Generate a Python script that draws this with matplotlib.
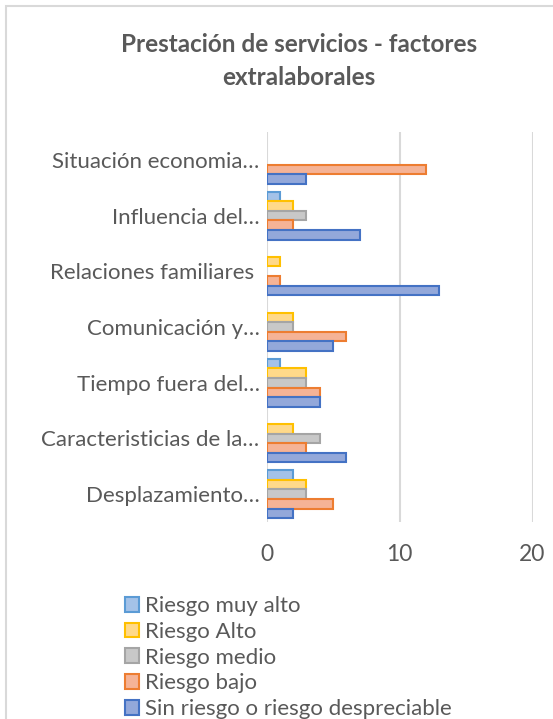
import matplotlib
matplotlib.use("Agg")
import matplotlib.pyplot as plt
from matplotlib.patches import Rectangle, Patch
import numpy as np

plt.rcParams['font.family'] = ['Lato', 'DejaVu Sans']

categories = ["Situación economia…", "Influencia del…", "Relaciones familiares ",
              "Comunicación y…", "Tiempo fuera del…", "Caracteristicias de la…",
              "Desplazamiento…"]
series_names = ["Riesgo muy alto", "Riesgo Alto", "Riesgo medio", "Riesgo bajo",
                "Sin riesgo o riesgo despreciable"]
riesgo_muy_alto = [0, 1, 0, 0, 1, 0, 2]
riesgo_alto = [0, 2, 1, 2, 3, 2, 3]
riesgo_medio = [0, 3, 0, 2, 3, 4, 3]
riesgo_bajo = [12, 2, 1, 6, 4, 3, 5]
sin_riesgo = [3, 7, 13, 5, 4, 6, 2]
series_values = [riesgo_muy_alto, riesgo_alto, riesgo_medio, riesgo_bajo, sin_riesgo]
x_ticks = [0, 10, 20]

fills = ["#A4C2E8", "#FFD98A", "#C8C8C8", "#F5B396", "#93A8DA"]
edges = ["#5B9BD5", "#FFC000", "#A5A5A5", "#ED7D31", "#4472C4"]
text_color = "#595959"

W, H = 553, 719
fig = plt.figure(figsize=(W / 100, H / 100), dpi=100)

# chart border
fig.patches.append(Rectangle((6 / W, -0.1), 1.2, (H - 6) / H + 0.1,
                             transform=fig.transFigure, fill=False,
                             edgecolor="#D9D9D9", linewidth=1.5))

left, right, top, bottom = 266.5, 532.5, 132, 522
ax = fig.add_axes([left / W, 1 - bottom / H, (right - left) / W, (bottom - top) / H])

y = np.arange(len(categories))
bh = 0.172
for k, vals in enumerate(series_values):
    vals = np.array(vals, dtype=float)
    lw = [1.5 if v > 0 else 0 for v in vals]
    ax.barh(y + (k - 2) * bh, vals, height=bh, color=fills[k], edgecolor=edges[k],
            linewidth=lw, zorder=3)

ax.set_xlim(0, 20)
ax.set_ylim(len(categories) - 0.5, -0.5)
ax.set_xticks(x_ticks)
ax.set_xticklabels([str(t) for t in x_ticks])
ax.set_yticks(y)
ax.set_yticklabels(categories)
ax.grid(axis="x", color="#D9D9D9", linewidth=1.5, zorder=0)
for s in ax.spines.values():
    s.set_visible(False)
ax.tick_params(axis="y", length=0, colors=text_color, labelsize=16, pad=5)
ax.tick_params(axis="x", length=0, colors=text_color, labelsize=16.5, pad=16)

fig.text(299 / W, 1 - 61 / H, "Prestación de servicios - factores\nextralaborales",
         ha="center", va="center", fontsize=17.5, fontweight="bold",
         color=text_color, linespacing=1.55)

handles = [Patch(facecolor=fills[k], edgecolor=edges[k], linewidth=1.5)
           for k in range(len(series_names))]
leg = fig.legend(handles, series_names, loc="upper left",
                 bbox_to_anchor=(125 / W, 1 - 596 / H), frameon=False,
                 fontsize=16, labelcolor=text_color, handlelength=0.65,
                 handleheight=0.65, handletextpad=0.25, labelspacing=0.26,
                 borderaxespad=0, borderpad=0)

fig.savefig("out.png", dpi=100)
